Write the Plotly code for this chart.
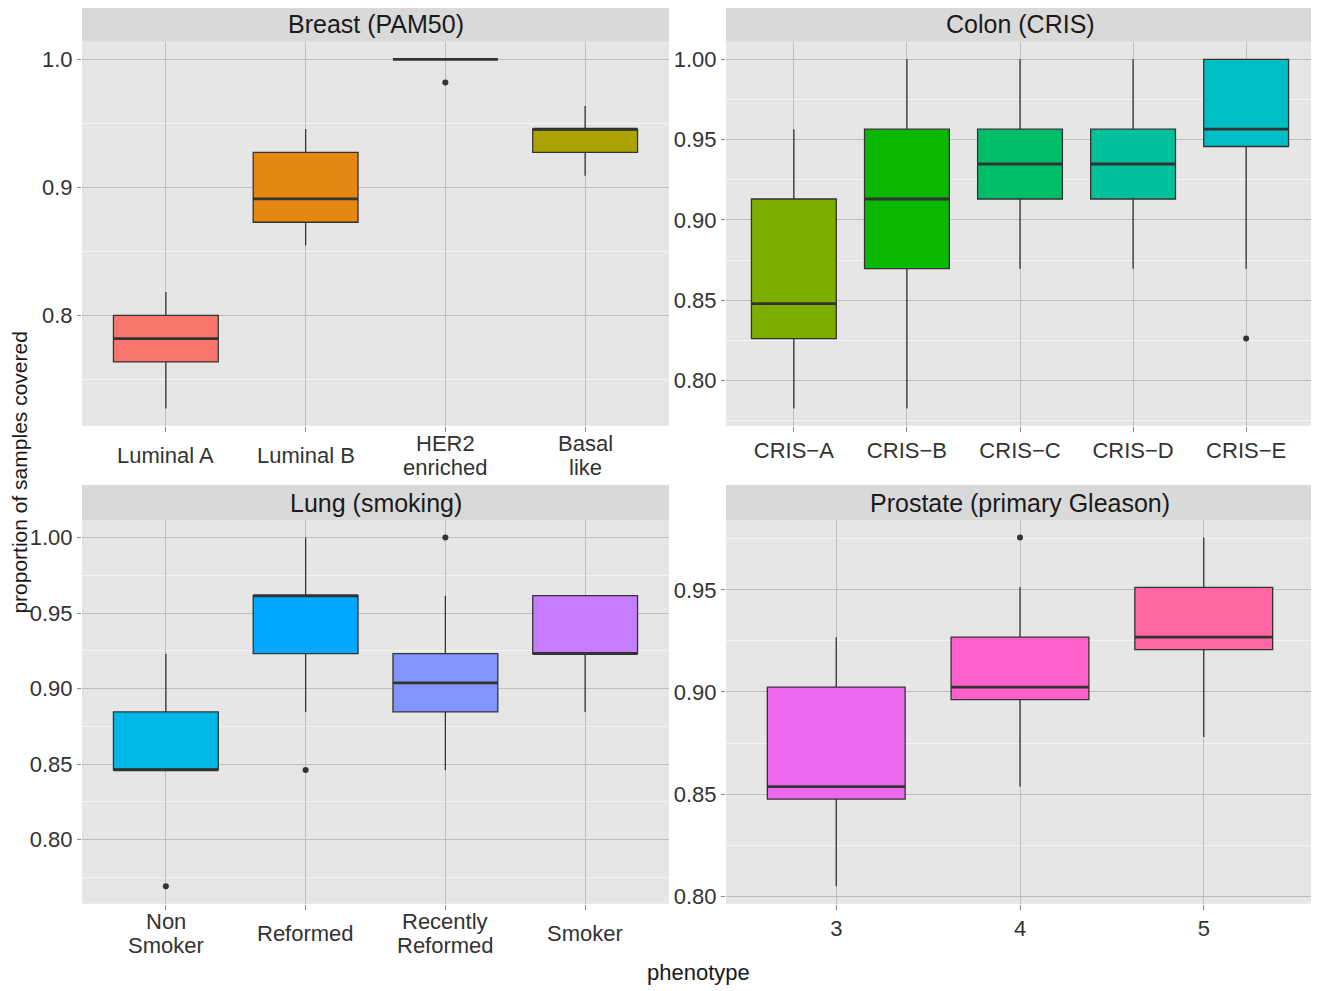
import plotly.graph_objects as go

# ---------------- data ----------------
breast_cats = ["Luminal A", "Luminal B", "HER2<br>enriched", "Basal<br>like"]
breast_q1 = [0.7636, 0.8727, 1.0, 0.9273]
breast_med = [0.7818, 0.8909, 1.0, 0.9455]
breast_q3 = [0.8000, 0.9273, 1.0, 0.9455]
breast_lo = [0.7273, 0.8545, 1.0, 0.9091]
breast_hi = [0.8182, 0.9455, 1.0, 0.9636]
breast_out_idx = [2]
breast_out_val = [0.9818]
breast_colors = ["#F8766D", "#E68613", "#CD9600", "#ABA300"]

colon_cats = ["CRIS\u2212A", "CRIS\u2212B", "CRIS\u2212C", "CRIS\u2212D", "CRIS\u2212E"]
colon_q1 = [0.8261, 0.8696, 0.9130, 0.9130, 0.9457]
colon_med = [0.8478, 0.9130, 0.9348, 0.9348, 0.9565]
colon_q3 = [0.9130, 0.9565, 0.9565, 0.9565, 1.0]
colon_lo = [0.7826, 0.7826, 0.8696, 0.8696, 0.8696]
colon_hi = [0.9565, 1.0, 1.0, 1.0, 1.0]
colon_out_idx = [4]
colon_out_val = [0.8261]
colon_colors = ["#7CAE00", "#0CB702", "#00BE67", "#00C19A", "#00BFC4"]

lung_cats = ["Non<br>Smoker", "Reformed", "Recently<br>Reformed", "Smoker"]
lung_q1 = [0.8462, 0.9231, 0.8846, 0.9231]
lung_med = [0.8462, 0.9615, 0.9038, 0.9231]
lung_q3 = [0.8846, 0.9615, 0.9231, 0.9615]
lung_lo = [0.8462, 0.8846, 0.8462, 0.8846]
lung_hi = [0.9231, 1.0, 0.9615, 0.9615]
lung_out_idx = [0, 1, 2]
lung_out_val = [0.7692, 0.8462, 1.0]
lung_colors = ["#00B8E7", "#00A9FF", "#8494FF", "#C77CFF"]

prostate_cats = ["3", "4", "5"]
prostate_q1 = [0.8476, 0.8963, 0.9207]
prostate_med = [0.8537, 0.9024, 0.9268]
prostate_q3 = [0.9024, 0.9268, 0.9512]
prostate_lo = [0.8049, 0.8537, 0.8780]
prostate_hi = [0.9268, 0.9512, 0.9756]
prostate_out_idx = [1]
prostate_out_val = [0.9756]
prostate_colors = ["#ED68ED", "#FF61CC", "#FF68A1"]

panel_titles = ["Breast (PAM50)", "Colon (CRIS)", "Lung (smoking)", "Prostate (primary Gleason)"]

breast_ticks = [0.8, 0.9, 1.0]
breast_ticktext = ["0.8", "0.9", "1.0"]
breast_minor = [0.75, 0.85, 0.95]
colon_ticks = [0.80, 0.85, 0.90, 0.95, 1.00]
colon_ticktext = ["0.80", "0.85", "0.90", "0.95", "1.00"]
colon_minor = [0.775, 0.825, 0.875, 0.925, 0.975]
lung_ticks = [0.80, 0.85, 0.90, 0.95, 1.00]
lung_ticktext = ["0.80", "0.85", "0.90", "0.95", "1.00"]
lung_minor = [0.775, 0.825, 0.875, 0.925, 0.975]
prostate_ticks = [0.80, 0.85, 0.90, 0.95]
prostate_ticktext = ["0.80", "0.85", "0.90", "0.95"]
prostate_minor = [0.825, 0.875, 0.925, 0.975]

# ---------------- layout geometry ----------------
OFF = 8  # page body margin
W, H = 1319 - OFF, 991 - OFF
FONT = "Liberation Sans, Arial, Helvetica, sans-serif"
BOX_W = 0.75
LINE_C = "#333333"
GRID_MAJOR = "#BEBEBE"
GRID_MINOR = "#F4F4F4"
PANEL_BG = "#E6E6E6"
STRIP_BG = "#D9D9D9"
TICK_FONT = dict(family=FONT, size=22, color="#333333")
LABEL_LINE_GAP = 24  # px between lines of two-line category labels


def px_x(p):
    return (p - OFF) / W


def px_y(p):
    return 1 - (p - OFF) / H


cols = [(82, 669), (726, 1314)]
rows = [(42, 428), (522.7, 908.3)]
strips = [(7, 42), (487.5, 522.7)]

panels = [
    dict(cats=breast_cats, q1=breast_q1, med=breast_med, q3=breast_q3, lo=breast_lo, hi=breast_hi,
         oi=breast_out_idx, ov=breast_out_val, colors=breast_colors,
         ticks=breast_ticks, ticktext=breast_ticktext, minor=breast_minor, r=0, c=0, anno=True),
    dict(cats=colon_cats, q1=colon_q1, med=colon_med, q3=colon_q3, lo=colon_lo, hi=colon_hi,
         oi=colon_out_idx, ov=colon_out_val, colors=colon_colors,
         ticks=colon_ticks, ticktext=colon_ticktext, minor=colon_minor, r=0, c=1, anno=False),
    dict(cats=lung_cats, q1=lung_q1, med=lung_med, q3=lung_q3, lo=lung_lo, hi=lung_hi,
         oi=lung_out_idx, ov=lung_out_val, colors=lung_colors,
         ticks=lung_ticks, ticktext=lung_ticktext, minor=lung_minor, r=1, c=0, anno=True),
    dict(cats=prostate_cats, q1=prostate_q1, med=prostate_med, q3=prostate_q3, lo=prostate_lo,
         hi=prostate_hi, oi=prostate_out_idx, ov=prostate_out_val, colors=prostate_colors,
         ticks=prostate_ticks, ticktext=prostate_ticktext, minor=prostate_minor, r=1, c=1, anno=False),
]

fig = go.Figure()
annotations = []
shapes = []
layout_axes = {}

for k, p in enumerate(panels):
    n = len(p["cats"])
    xs = list(range(n))
    suffix = "" if k == 0 else str(k + 1)
    xa, ya = "x" + suffix, "y" + suffix
    # boxes
    for i in xs:
        fig.add_trace(go.Box(
            x=[i], q1=[p["q1"][i]], median=[p["med"][i]], q3=[p["q3"][i]],
            lowerfence=[p["lo"][i]], upperfence=[p["hi"][i]],
            width=BOX_W, whiskerwidth=0, fillcolor=p["colors"][i],
            line=dict(color=LINE_C, width=1.3), boxpoints=False,
            xaxis=xa, yaxis=ya, showlegend=False, hoverinfo="skip"))
        # thicker median line (ggplot fatten)
        fig.add_trace(go.Scatter(
            x=[i - BOX_W / 2, i + BOX_W / 2], y=[p["med"][i], p["med"][i]],
            mode="lines", line=dict(color=LINE_C, width=2.8),
            xaxis=xa, yaxis=ya, showlegend=False, hoverinfo="skip"))
    # outliers
    if p["oi"]:
        fig.add_trace(go.Scatter(
            x=p["oi"], y=p["ov"], mode="markers",
            marker=dict(color=LINE_C, size=6),
            xaxis=xa, yaxis=ya, showlegend=False, hoverinfo="skip"))

    allv = p["lo"] + p["hi"] + p["ov"]
    vmin, vmax = min(allv), max(allv)
    span = vmax - vmin
    yr = [vmin - 0.05 * span, vmax + 0.05 * span]

    x0, x1 = cols[p["c"]]
    y0, y1 = rows[p["r"]]
    s0, s1 = strips[p["r"]]

    layout_axes["xaxis" + suffix] = dict(
        domain=[px_x(x0), px_x(x1)], anchor=ya, range=[-0.6, n - 0.4],
        tickmode="array", tickvals=xs, ticktext=p["cats"],
        showticklabels=not p["anno"], tickfont=TICK_FONT,
        ticks="outside", ticklen=5, tickcolor="#8A8A8A", tickwidth=1,
        showgrid=True, gridcolor=GRID_MAJOR, gridwidth=1.2,
        zeroline=False, showline=False, fixedrange=True)
    layout_axes["yaxis" + suffix] = dict(
        domain=[px_y(y1), px_y(y0)], anchor=xa, range=yr,
        tickmode="array", tickvals=p["ticks"], ticktext=p["ticktext"],
        tickfont=TICK_FONT, ticks="outside", ticklen=4, tickcolor="#8A8A8A",
        showgrid=True, gridcolor=GRID_MAJOR, gridwidth=1.2,
        minor=dict(tickmode="array", tickvals=p["minor"], showgrid=True,
                   gridcolor=GRID_MINOR, gridwidth=1, ticks=""),
        zeroline=False, showline=False, fixedrange=True)

    # panel background
    shapes.append(dict(type="rect", xref="paper", yref="paper",
                       x0=px_x(x0), x1=px_x(x1), y0=px_y(y1), y1=px_y(y0),
                       fillcolor=PANEL_BG, line=dict(width=0), layer="below"))
    # strip
    shapes.append(dict(type="rect", xref="paper", yref="paper",
                       x0=px_x(x0), x1=px_x(x1), y0=px_y(s1), y1=px_y(s0),
                       fillcolor=STRIP_BG, line=dict(width=0), layer="below"))
    annotations.append(dict(text=panel_titles[k], xref="paper", yref="paper",
                            x=px_x((x0 + x1) / 2), y=px_y((s0 + s1) / 2),
                            xanchor="center", yanchor="middle", showarrow=False,
                            font=dict(family=FONT, size=25, color="#1A1A1A")))
    # centered multi-line category labels (ggplot style, tight line spacing)
    if p["anno"]:
        center = y1 + 30
        for i in xs:
            lines = p["cats"][i].split("<br>")
            nl = len(lines)
            for j, line in enumerate(lines):
                yy = center + (j - (nl - 1) / 2) * LABEL_LINE_GAP
                annotations.append(dict(text=line, xref=xa, yref="paper",
                                        x=i, y=px_y(yy), xanchor="center",
                                        yanchor="middle", showarrow=False,
                                        font=TICK_FONT))

annotations.append(dict(text="proportion of samples covered", xref="paper", yref="paper",
                        x=px_x(20), y=px_y(475), textangle=-90, xanchor="center",
                        yanchor="middle", showarrow=False,
                        font=dict(family=FONT, size=21, color="#1A1A1A")))
annotations.append(dict(text="phenotype", xref="paper", yref="paper",
                        x=px_x(698), y=px_y(977), xanchor="center", yanchor="middle",
                        showarrow=False, font=dict(family=FONT, size=22, color="#1A1A1A")))

fig.update_layout(
    width=W, height=H, autosize=False,
    margin=dict(l=0, r=0, t=0, b=0),
    paper_bgcolor="white", plot_bgcolor="rgba(0,0,0,0)",
    boxmode="overlay", showlegend=False,
    shapes=shapes, annotations=annotations,
    **layout_axes)

fig.write_html("out.html")
